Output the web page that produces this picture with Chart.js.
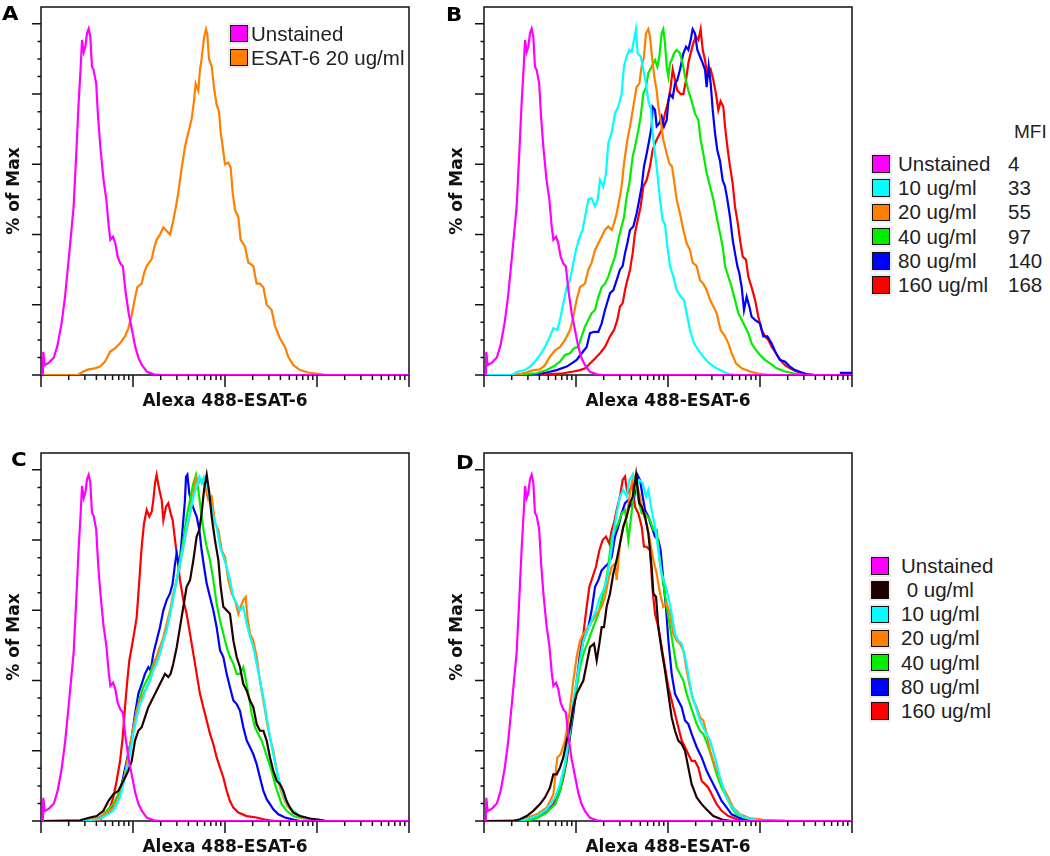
<!DOCTYPE html>
<html>
<head>
<meta charset="utf-8">
<script src="https://cdn.jsdelivr.net/npm/chart.js@4.4.0/dist/chart.umd.min.js"></script>
<style>
  body { margin: 0; background: #fff; }
  #page { position: relative; width: 1050px; height: 856px; overflow: hidden; background: #fff; }
  .panel { position: absolute; width: 420px; height: 420px; }
  .tag { position: absolute; font: bold 19px "DejaVu Sans", sans-serif; line-height: 19px; color: #000; transform: scaleX(1.12); transform-origin: left top; }
  .leg { position: absolute; font: 20.5px "Liberation Sans", Arial, sans-serif; color: #222; white-space: pre; line-height: 24px; height: 24px; }
  .sw { position: absolute; width: 17.5px; height: 17.5px; box-sizing: border-box; border: 1.5px solid #111; box-shadow: 0 0 0 2px #eee; }
</style>
</head>
<body>
<div id="page">
  <canvas class="panel" id="chartA" width="420" height="420" style="left:0;top:0"></canvas>
  <canvas class="panel" id="chartB" width="420" height="420" style="left:443px;top:0"></canvas>
  <canvas class="panel" id="chartC" width="420" height="420" style="left:0;top:446px"></canvas>
  <canvas class="panel" id="chartD" width="420" height="420" style="left:443px;top:446px"></canvas>
  <div class="tag" style="left:2px;top:4px">A</div>
  <div class="tag" style="left:446px;top:5px">B</div>
  <div class="tag" style="left:11px;top:450px">C</div>
  <div class="tag" style="left:456px;top:453px">D</div>
</div>
<script>
// colours of the samples
const colors = {
    unstained: '#ff00ff', c0: '#200000', c10: '#00ffff', c20: '#ff8000',
    c40: '#00ee00', c80: '#0000ff', c160: '#ff0000'
};

// x = log10 of fluorescence (decades, 0..4), y = % of max
const unstained = [[0,0],[0.02,0],[0.025,6.6],[0.04,2.8],[0.09,3.6],[0.14,5],[0.18,8.5],[0.225,15],[0.26,22],[0.305,34],[0.355,48],[0.385,64],[0.41,78],[0.43,87],[0.446,95.4],[0.464,92],[0.482,93.5],[0.5,97.3],[0.518,98.6],[0.536,96.4],[0.554,87.8],[0.572,86.9],[0.6,83],[0.62,73.6],[0.645,65],[0.68,55.5],[0.71,50],[0.736,42.3],[0.754,38.5],[0.783,39.4],[0.808,37.5],[0.833,33.7],[0.862,31.8],[0.89,30.9],[0.917,24.2],[0.953,17.6],[0.989,12.8],[1.025,8],[1.062,4.7],[1.098,2.8],[1.152,0.9],[1.225,0.2],[1.3,0],[4,0]];

// panel A
const esat20A = [[0,0],[0.4,0],[0.46,1],[0.514,1.6],[0.587,1.9],[0.641,2.4],[0.696,3.8],[0.75,6.6],[0.804,7.6],[0.859,9],[0.913,11],[0.949,13.3],[0.986,17],[1.022,22],[1.047,25],[1.094,26],[1.12,29],[1.149,31],[1.203,33],[1.228,36],[1.257,38.5],[1.293,40],[1.33,42],[1.366,41],[1.402,40],[1.438,44],[1.467,48],[1.493,52],[1.529,59],[1.565,65],[1.601,69],[1.638,73],[1.663,78],[1.681,83],[1.71,81],[1.728,87],[1.746,90],[1.772,96],[1.793,98.5],[1.808,97],[1.826,90],[1.855,88],[1.88,82],[1.909,77],[1.935,75],[1.953,69],[1.975,65],[2.0,60],[2.036,60.5],[2.062,59],[2.083,52],[2.109,47],[2.145,45],[2.17,38.5],[2.217,36.6],[2.254,32],[2.308,31],[2.344,26],[2.38,26],[2.417,25],[2.453,20],[2.507,18.5],[2.543,14],[2.598,10.4],[2.652,8],[2.688,5.2],[2.743,2.8],[2.815,1.4],[2.906,0.7],[3.014,0.3],[3.1,0],[4,0]];

// panel B
const b10 = [[0,0],[0.3,0],[0.373,1],[0.446,1.4],[0.5,2.4],[0.554,3.8],[0.609,5.7],[0.663,8],[0.717,11],[0.754,13.3],[0.797,12.8],[0.826,15.7],[0.862,20.4],[0.899,25],[0.935,27],[0.971,32],[1.0,35.6],[1.036,39],[1.072,41.3],[1.098,45],[1.134,50],[1.17,50.3],[1.207,48],[1.236,50],[1.261,55.5],[1.297,53.6],[1.326,57.5],[1.351,66],[1.388,69],[1.424,74.5],[1.46,76.4],[1.496,80],[1.522,88],[1.551,90.7],[1.58,92.6],[1.605,92],[1.63,95.4],[1.652,98.5],[1.67,91.6],[1.703,90.7],[1.732,87],[1.761,83],[1.786,78],[1.815,75.5],[1.841,67],[1.859,63],[1.884,57.5],[1.913,50],[1.942,44],[1.967,43],[1.993,36.6],[2.022,31],[2.058,28],[2.094,24.2],[2.138,22.3],[2.174,21.4],[2.203,17.6],[2.239,12.8],[2.283,9],[2.33,7.1],[2.384,5.2],[2.449,3.3],[2.529,1.9],[2.62,0.7],[2.674,0.2],[2.75,0],[4,0]];
const b20 = [[0,0],[0.3,0],[0.391,0.3],[0.464,0.8],[0.536,1.4],[0.609,1.6],[0.663,2.8],[0.717,5.2],[0.772,7],[0.826,8],[0.88,10],[0.935,12.8],[0.971,16.6],[1.007,21.4],[1.043,25],[1.098,26],[1.134,30],[1.17,32],[1.207,35.6],[1.243,37.5],[1.279,39.4],[1.315,41.3],[1.351,42.3],[1.388,41.3],[1.413,43.2],[1.442,46],[1.471,50],[1.496,53.7],[1.522,60.3],[1.558,67],[1.587,70.8],[1.623,76.4],[1.659,82],[1.688,83],[1.714,88],[1.739,90.7],[1.761,97.3],[1.786,98.5],[1.804,96.4],[1.83,89.7],[1.851,85],[1.877,81],[1.895,76.4],[1.92,72.6],[1.949,67],[1.986,63],[2.014,60.3],[2.043,59.4],[2.065,55.5],[2.094,50],[2.13,46],[2.167,41.3],[2.203,37.5],[2.239,35.6],[2.268,32],[2.312,31],[2.348,27],[2.384,26],[2.42,24.2],[2.457,21.4],[2.493,19.5],[2.529,17.6],[2.572,12.8],[2.62,11],[2.656,9],[2.692,6.2],[2.739,3.3],[2.801,1.9],[2.891,1],[3.0,0.3],[3.1,0],[4,0]];
const b40 = [[0,0],[0.4,0],[0.464,0.3],[0.572,0.5],[0.681,1.4],[0.754,2.4],[0.826,3.8],[0.88,5.7],[0.935,6.2],[0.978,7.6],[1.025,8],[1.062,11],[1.098,13.8],[1.134,15.7],[1.17,17.6],[1.207,18.5],[1.243,22.3],[1.279,25],[1.315,26],[1.351,28],[1.388,31],[1.424,33.7],[1.46,38.5],[1.496,42.3],[1.522,45],[1.551,50.8],[1.58,54.6],[1.616,62.2],[1.641,65],[1.678,69.8],[1.703,73.6],[1.732,80.2],[1.761,82],[1.786,86],[1.822,87.8],[1.859,89.7],[1.884,87.8],[1.906,90.7],[1.931,97.3],[1.949,98.5],[1.967,94.5],[1.986,87.8],[2.004,85],[2.022,88.8],[2.04,89.7],[2.065,91.6],[2.094,92.6],[2.13,91.6],[2.159,88.8],[2.185,85],[2.221,81],[2.257,78],[2.293,74.5],[2.33,72.6],[2.355,67],[2.384,63],[2.42,57.5],[2.457,53.7],[2.493,50],[2.529,45],[2.565,40.4],[2.594,36.6],[2.62,31],[2.656,28],[2.692,25],[2.728,21.4],[2.764,17.6],[2.801,15.7],[2.837,13.8],[2.873,11.9],[2.909,9],[2.957,7.1],[3.0,5.7],[3.054,4.3],[3.109,3.3],[3.181,1.9],[3.272,1],[3.362,0.5],[3.435,0.2],[3.5,0],[4,0]];
const b80 = [[0,0],[0.5,0],[0.572,0.2],[0.681,0.7],[0.79,1.4],[0.899,2.4],[0.953,3.3],[1.007,4.3],[1.062,6.2],[1.116,8],[1.152,11.9],[1.196,12.3],[1.243,12.3],[1.279,14.7],[1.315,18.5],[1.37,23.3],[1.406,24.2],[1.442,27],[1.478,30],[1.507,31],[1.533,34.7],[1.558,37.5],[1.587,41.3],[1.623,42.3],[1.659,46],[1.688,50],[1.714,53.7],[1.739,59.4],[1.768,63],[1.797,67],[1.822,70.8],[1.833,76.4],[1.859,75.5],[1.877,70.8],[1.906,71.7],[1.931,73.6],[1.957,70.8],[1.986,72.6],[2.004,78],[2.022,80],[2.051,79],[2.076,83],[2.101,84],[2.13,86.9],[2.167,91.6],[2.196,93.5],[2.221,92.6],[2.246,95.4],[2.268,98.5],[2.293,97.3],[2.319,92.6],[2.348,90.7],[2.377,88.8],[2.402,87],[2.42,82],[2.442,88],[2.464,83],[2.486,75.5],[2.511,68.9],[2.536,64],[2.565,61],[2.594,55.5],[2.62,53.7],[2.645,50],[2.674,45],[2.703,38.5],[2.728,34.7],[2.754,31],[2.775,29],[2.801,25],[2.826,18.5],[2.855,22.3],[2.884,19.5],[2.909,16.6],[2.946,15.7],[3.0,14.7],[3.036,11],[3.08,11],[3.127,9],[3.174,6.2],[3.217,4.3],[3.272,3.8],[3.326,2.4],[3.38,1.4],[3.453,0.7],[3.507,0.2],[3.6,0],[3.87,0],[3.88,0.6],[4,0.6]];
const b160 = [[0,0],[0.6,0],[0.681,0.2],[0.862,0.5],[0.971,1],[1.043,1.4],[1.098,1.9],[1.152,3.3],[1.207,4.7],[1.261,6.2],[1.315,8],[1.37,11],[1.413,12.8],[1.449,15.7],[1.478,19.5],[1.507,20.4],[1.533,24.2],[1.558,27],[1.587,30],[1.616,34.7],[1.641,40.4],[1.678,45],[1.703,48],[1.732,53.7],[1.768,55.5],[1.804,59.4],[1.833,64],[1.859,66],[1.895,68],[1.931,69.8],[1.967,74.5],[2.004,78],[2.029,82],[2.051,87],[2.076,84],[2.101,81],[2.138,80],[2.167,80],[2.196,84],[2.221,88.8],[2.246,91.6],[2.275,94.5],[2.304,96.4],[2.33,95.4],[2.355,98.5],[2.377,92.6],[2.402,89.7],[2.428,85],[2.464,87],[2.493,84],[2.522,80],[2.547,75.5],[2.572,78],[2.601,76.4],[2.62,70.8],[2.645,65],[2.674,59.4],[2.703,54.6],[2.728,48],[2.754,44],[2.783,38.5],[2.812,33.7],[2.848,32.8],[2.873,28],[2.909,25],[2.946,21.4],[2.982,16.6],[3.018,12.8],[3.054,11],[3.091,10],[3.127,8],[3.174,6.2],[3.217,4.3],[3.272,2.8],[3.326,1.9],[3.38,1.2],[3.453,0.5],[3.507,0.2],[3.6,0],[4,0]];
const mfiB = [4, 33, 55, 97, 140, 168];

// panel C
const c0 = [[0,0],[0.424,0.2],[0.533,1],[0.605,1.4],[0.678,2.9],[0.732,5.7],[0.786,7.6],[0.841,8.6],[0.895,11.4],[0.949,14.3],[0.986,17.1],[1.022,22.9],[1.058,25.7],[1.094,26.7],[1.13,29.5],[1.167,32.4],[1.203,34.3],[1.239,36.2],[1.275,38.1],[1.312,40],[1.348,41.9],[1.384,41],[1.409,41.9],[1.438,44.8],[1.475,49.5],[1.511,55.2],[1.547,61],[1.583,66.7],[1.62,68.6],[1.656,74.3],[1.692,81],[1.721,82.9],[1.746,87.6],[1.772,94.3],[1.801,98.6],[1.83,93.3],[1.855,86.7],[1.891,80],[1.928,74.3],[1.953,66.7],[1.982,61],[2.018,60],[2.054,59],[2.091,51.4],[2.127,46.7],[2.163,43.8],[2.199,39],[2.236,37.1],[2.272,34.3],[2.308,32.4],[2.344,27.6],[2.38,25.7],[2.417,25.7],[2.453,22.9],[2.489,18.1],[2.525,14.3],[2.562,11.4],[2.598,10.5],[2.634,8.6],[2.67,5.7],[2.707,3.8],[2.743,2.4],[2.815,1.4],[2.924,0.7],[3.033,0.3],[3.1,0],[4,0]];
const c10 = [[0,0],[0.42,0],[0.496,0.2],[0.641,0.5],[0.786,2.9],[0.859,6.7],[0.913,12.4],[0.967,19],[1.004,24.8],[1.04,29.5],[1.076,33.3],[1.112,35.2],[1.149,38.1],[1.185,40],[1.221,42.9],[1.257,44.8],[1.293,47.6],[1.33,51.4],[1.366,54.3],[1.402,59],[1.438,63.8],[1.475,68.6],[1.511,73.3],[1.547,78.1],[1.583,83.8],[1.62,87.6],[1.656,92.4],[1.692,95.2],[1.721,98],[1.746,96.2],[1.772,98],[1.801,96.2],[1.837,91.4],[1.873,86.7],[1.909,83.8],[1.946,78.1],[1.982,75.2],[2.018,72.4],[2.054,68.6],[2.091,63.8],[2.127,61.9],[2.163,60],[2.199,61],[2.236,56.2],[2.272,52.4],[2.308,49.5],[2.344,44.8],[2.38,40],[2.417,35.2],[2.453,29.5],[2.489,23.8],[2.525,19],[2.562,14.3],[2.598,10.5],[2.634,7.6],[2.67,5.2],[2.725,3.3],[2.797,1.7],[2.888,0.8],[2.996,0.3],[3.1,0],[4,0]];
const c20 = [[0,0],[0.42,0],[0.496,0.3],[0.641,1],[0.786,3.8],[0.859,7.6],[0.913,13.3],[0.967,21],[1.004,26.7],[1.04,31.4],[1.076,34.3],[1.112,36.2],[1.149,38.1],[1.185,40],[1.221,43.8],[1.257,46.7],[1.293,49.5],[1.33,52.4],[1.366,56.2],[1.402,60],[1.438,64.8],[1.475,68.6],[1.511,73.3],[1.547,78.1],[1.583,82.9],[1.62,87.6],[1.656,93.3],[1.685,98],[1.71,96.2],[1.746,97.1],[1.783,95.2],[1.819,91.4],[1.855,92.4],[1.891,84.8],[1.928,82.9],[1.964,77.1],[2.0,75.2],[2.036,68.6],[2.072,64.8],[2.109,62.9],[2.145,59],[2.17,61],[2.199,62.9],[2.225,63.8],[2.243,58.1],[2.272,53.3],[2.308,51.4],[2.344,46.7],[2.38,40],[2.417,34.3],[2.453,28.6],[2.489,23.8],[2.525,20],[2.562,14.3],[2.598,9.5],[2.634,6.7],[2.678,4.3],[2.743,2.4],[2.833,1.1],[2.942,0.4],[3.05,0],[4,0]];
const c40 = [[0,0],[0.42,0],[0.496,0.2],[0.641,1],[0.786,4.8],[0.859,8.6],[0.913,13.3],[0.967,21],[1.004,25.7],[1.04,31.4],[1.076,35.2],[1.112,38.1],[1.149,40],[1.185,41.9],[1.221,44.8],[1.257,46.7],[1.293,49.5],[1.33,51.4],[1.366,55.2],[1.402,59],[1.438,63.8],[1.475,68.6],[1.511,74.3],[1.547,80],[1.583,86.7],[1.62,91.4],[1.656,96.2],[1.685,98.6],[1.71,94.3],[1.746,86.7],[1.772,81.9],[1.801,78.1],[1.837,74.3],[1.873,68.6],[1.909,61.9],[1.946,57.1],[1.982,53.3],[2.018,49.5],[2.054,46.7],[2.091,44.8],[2.127,41.9],[2.163,41.9],[2.199,43.8],[2.228,40],[2.254,36.2],[2.29,30.5],[2.326,26.7],[2.362,24.8],[2.399,22.9],[2.435,20],[2.471,17.1],[2.507,14.3],[2.543,10.5],[2.58,7.6],[2.616,4.8],[2.67,2.9],[2.743,1.4],[2.851,0.7],[2.96,0.3],[3.05,0],[4,0]];
const c80 = [[0,0],[0.42,0],[0.496,0.2],[0.641,1],[0.75,2.9],[0.822,5.7],[0.877,10.5],[0.931,17],[0.986,23.8],[1.022,30.5],[1.058,36.2],[1.094,39],[1.13,41.9],[1.167,43.8],[1.192,42.9],[1.221,47.6],[1.257,51.4],[1.293,55.2],[1.33,60],[1.366,62.9],[1.402,64.8],[1.431,67.6],[1.457,73.3],[1.475,76.2],[1.504,72.4],[1.529,80],[1.547,85.7],[1.565,91.4],[1.576,98],[1.591,98.6],[1.612,93.3],[1.638,90.5],[1.663,88.6],[1.692,86.7],[1.721,82.9],[1.746,77.1],[1.772,72.4],[1.801,67.6],[1.837,63.8],[1.873,60],[1.909,55.2],[1.946,48.6],[1.982,46.7],[2.018,41.9],[2.054,38.1],[2.091,34.3],[2.127,33.3],[2.163,31.4],[2.199,26.7],[2.236,22.9],[2.272,21],[2.308,19],[2.344,16.2],[2.38,12.4],[2.417,8.6],[2.453,6.2],[2.489,4.8],[2.525,3.3],[2.58,1.9],[2.652,1],[2.743,0.4],[2.815,0],[4,0]];
const c160 = [[0,0],[0.6,0],[0.641,0.2],[0.75,3.8],[0.786,6.7],[0.822,11.4],[0.859,17],[0.888,23.8],[0.913,32.4],[0.938,40],[0.96,45.7],[0.986,49.5],[1.011,53.3],[1.04,58],[1.069,68.6],[1.094,78],[1.12,84.8],[1.149,88.6],[1.178,86.7],[1.203,88],[1.221,91.4],[1.239,96.2],[1.257,98.6],[1.286,94.3],[1.312,91.4],[1.33,85.7],[1.359,89.5],[1.384,90.5],[1.409,87.6],[1.431,85.7],[1.457,80],[1.475,76.2],[1.511,68.6],[1.547,62.9],[1.583,59],[1.62,53.3],[1.656,47.6],[1.692,41.9],[1.728,36.2],[1.764,32.4],[1.801,28.6],[1.837,24.8],[1.873,21.9],[1.909,18.1],[1.946,15.2],[1.982,12.4],[2.018,8.6],[2.054,5.7],[2.091,3.8],[2.145,2.4],[2.236,1.4],[2.344,1],[2.417,0.5],[2.489,0.2],[2.55,0],[4,0]];

// panel D
const d0 = [[0,0],[0.319,0],[0.391,0.5],[0.464,1.4],[0.536,2.9],[0.609,4.8],[0.663,6.7],[0.717,9.5],[0.754,13.3],[0.79,13.3],[0.826,15.2],[0.862,18.1],[0.899,22.9],[0.935,26.7],[0.971,32.4],[1.007,36.2],[1.043,38.1],[1.08,40],[1.116,44.8],[1.152,49.5],[1.196,50.5],[1.225,45.7],[1.254,50.5],[1.279,55.2],[1.304,55.2],[1.333,61],[1.37,64.8],[1.406,70.5],[1.442,74.3],[1.478,79],[1.514,83.8],[1.551,86.7],[1.587,90.5],[1.616,92.4],[1.641,96.2],[1.653,98.6],[1.667,95.2],[1.688,90.5],[1.714,89.5],[1.75,86.7],[1.786,81.9],[1.822,72.4],[1.841,64.8],[1.87,63.8],[1.895,55.2],[1.931,48.6],[1.967,42.9],[2.004,36.2],[2.04,29.5],[2.076,25.7],[2.112,22.9],[2.149,21.9],[2.185,20],[2.221,15.2],[2.257,10.5],[2.312,6.7],[2.366,4.8],[2.42,3.3],[2.493,1.4],[2.601,0.3],[2.7,0],[4,0]];
const d10 = [[0,0],[0.319,0],[0.464,0.5],[0.572,1.4],[0.681,3.3],[0.772,6.7],[0.826,10.5],[0.88,16.2],[0.928,24.8],[0.971,34.3],[1.007,40],[1.043,45.7],[1.08,51.4],[1.123,54.3],[1.17,57.1],[1.217,60],[1.261,63.8],[1.297,65.7],[1.333,68.6],[1.37,74.3],[1.406,81.9],[1.442,87.6],[1.478,92.4],[1.514,94.3],[1.551,92.4],[1.58,97.1],[1.616,98.6],[1.652,95.2],[1.688,97.1],[1.725,96.2],[1.761,92.4],[1.786,94.3],[1.822,88.6],[1.859,83.8],[1.895,77.1],[1.931,70.5],[1.967,67.6],[2.004,63.8],[2.04,59],[2.076,53.3],[2.112,51.4],[2.149,50.5],[2.185,46.7],[2.221,41.9],[2.257,36.2],[2.293,33.3],[2.348,28.6],[2.402,25.7],[2.457,22.9],[2.511,18.1],[2.565,12.4],[2.62,7.6],[2.674,4.8],[2.746,2.4],[2.819,1.1],[2.928,0.5],[3.0,0],[4,0]];
const d20 = [[0,0],[0.33,0],[0.391,0.2],[0.572,1.9],[0.681,3.8],[0.754,7.6],[0.797,18.1],[0.833,19],[0.88,22.9],[0.928,30.5],[0.971,40],[1.007,46.7],[1.043,51.4],[1.08,53.3],[1.134,55.2],[1.181,57.1],[1.225,59],[1.279,61],[1.315,63.8],[1.351,68.6],[1.388,72.4],[1.424,73.3],[1.442,68.6],[1.478,79],[1.514,83.8],[1.551,86.7],[1.587,93.3],[1.623,98.6],[1.659,96.2],[1.696,92.4],[1.732,87.6],[1.768,84.8],[1.804,80],[1.841,74.3],[1.877,70.5],[1.913,64.8],[1.949,61],[1.986,61.9],[2.022,59],[2.058,53.3],[2.094,51.4],[2.13,50.5],[2.167,48.6],[2.203,42.9],[2.239,38.1],[2.275,34.3],[2.312,32.4],[2.348,29.5],[2.384,28.6],[2.42,24.8],[2.457,20],[2.493,17.1],[2.547,13.3],[2.601,9.5],[2.656,6.7],[2.71,3.8],[2.783,1.9],[2.891,0.8],[3.036,0.3],[3.1,0],[4,0]];
const d40 = [[0,0],[0.464,0],[0.572,0.8],[0.681,2.4],[0.772,4.8],[0.826,8.6],[0.88,15.2],[0.928,23.8],[0.971,32.4],[1.007,38.1],[1.043,43.8],[1.08,47.6],[1.134,51.4],[1.188,55.2],[1.243,59],[1.279,62.9],[1.315,66.7],[1.351,72.4],[1.388,81],[1.424,82.9],[1.46,84.8],[1.496,87.6],[1.533,88.6],[1.569,80],[1.587,83.8],[1.623,92.4],[1.652,97.1],[1.678,91.4],[1.714,87.6],[1.75,87.6],[1.804,85.7],[1.841,82.9],[1.877,82.9],[1.913,73.3],[1.949,67.6],[1.986,61],[2.022,55.2],[2.058,49.5],[2.094,43.8],[2.13,41.9],[2.167,40],[2.203,36.2],[2.239,33.3],[2.275,30.5],[2.312,27.6],[2.348,25.7],[2.384,24.8],[2.428,21.9],[2.475,18.1],[2.529,13.3],[2.583,9.5],[2.638,6.7],[2.692,3.8],[2.746,1.9],[2.855,0.7],[3.0,0.3],[3.254,0.1],[3.3,0],[4,0]];
const d80 = [[0,0],[0.464,0],[0.572,1],[0.681,2.9],[0.772,4.8],[0.826,8.6],[0.88,15.2],[0.928,22.9],[0.971,30.5],[1.007,38.1],[1.043,46.7],[1.08,51.4],[1.134,55.2],[1.17,60],[1.207,66.7],[1.243,68.6],[1.279,71.4],[1.315,72.4],[1.351,73.3],[1.388,75.2],[1.424,81],[1.46,83.8],[1.496,87.6],[1.533,90.5],[1.569,91.4],[1.605,89.5],[1.641,93.3],[1.667,98.6],[1.696,97.1],[1.725,92.4],[1.75,88.6],[1.786,86.7],[1.822,83.8],[1.859,81],[1.895,80],[1.92,77.1],[1.949,68.6],[1.978,61],[2.004,51.4],[2.04,41.9],[2.076,36.2],[2.112,34.3],[2.149,32.4],[2.185,28.6],[2.221,27.6],[2.257,24.8],[2.312,21],[2.366,18.1],[2.42,14.3],[2.475,11.4],[2.529,8.6],[2.583,5.7],[2.638,3.8],[2.692,1.9],[2.783,0.8],[2.891,0.3],[2.95,0],[4,0]];
const d160 = [[0,0],[0.464,0.2],[0.572,1],[0.681,2.4],[0.754,4.8],[0.808,7.6],[0.855,11.4],[0.899,17.1],[0.935,24.8],[0.971,32.4],[1.007,40],[1.043,47.6],[1.08,53.3],[1.116,61],[1.145,66.7],[1.181,69.5],[1.217,72.4],[1.254,77.1],[1.29,80],[1.326,81],[1.362,79],[1.388,82.9],[1.413,84.8],[1.442,88.6],[1.478,92.4],[1.507,97.1],[1.533,98.1],[1.558,93.3],[1.587,94.3],[1.616,96.2],[1.641,89.5],[1.678,87.6],[1.714,83.8],[1.739,78.1],[1.768,78.1],[1.804,77.1],[1.833,65.7],[1.859,59],[1.895,55.2],[1.931,49.5],[1.967,43.8],[2.004,38.1],[2.04,34.3],[2.076,30.5],[2.112,26.7],[2.149,22.9],[2.185,21],[2.221,19],[2.257,17.1],[2.293,17.1],[2.33,15.2],[2.366,11.4],[2.402,10.5],[2.438,9.5],[2.475,7.6],[2.529,4.8],[2.583,2.9],[2.656,1.4],[2.746,0.5],[2.85,0],[4,0]];

// axis ticks
const xMajor = [1, 10, 100, 1000, 10000];
const minorSteps = [2, 3, 4, 5, 6, 7, 8, 9];
const yMajor = [0, 20, 40, 60, 80, 100];
const yMinor = [5, 10, 15, 25, 30, 35, 45, 50, 55, 65, 70, 75, 85, 90, 95];
const xMinor = xMajor.slice(0, 4).flatMap(p => minorSteps.map(m => m * p));

// box and tick marks, drawn under the histograms
const frame = {
    id: 'frame',
    beforeDatasetsDraw(chart) {
        const { ctx, chartArea: a, scales: { x, y } } = chart;
        ctx.save();
        ctx.strokeStyle = '#111';
        ctx.lineWidth = 1.5;
        ctx.beginPath();
        ctx.moveTo(a.left, a.bottom);
        ctx.lineTo(a.left, a.top);
        ctx.lineTo(a.right, a.top);
        ctx.lineTo(a.right, a.bottom);
        ctx.lineTo(a.left, a.bottom);
        xMajor.forEach(v => {
            const px = x.getPixelForValue(v);
            ctx.moveTo(px, a.bottom);
            ctx.lineTo(px, a.bottom + 12);
        });
        xMinor.forEach(v => {
            const px = x.getPixelForValue(v);
            ctx.moveTo(px, a.bottom);
            ctx.lineTo(px, a.bottom + 5);
        });
        yMajor.forEach(v => {
            const py = y.getPixelForValue(v);
            ctx.moveTo(a.left - 9, py);
            ctx.lineTo(a.left, py);
        });
        yMinor.forEach(v => {
            const py = y.getPixelForValue(v);
            ctx.moveTo(a.left - 3.5, py);
            ctx.lineTo(a.left, py);
        });
        ctx.stroke();
        ctx.restore();
    }
};

const titleFont = { family: 'DejaVu Sans', weight: 'bold', size: 17, lineHeight: 1 };

function crearHistograma(id, series) {
    const ctx = document.getElementById(id).getContext('2d');
    return new Chart(ctx, {
        type: 'line',
        data: {
            datasets: series.map(s => ({
                label: s.label,
                data: s.pts.map(p => ({ x: Math.pow(10, p[0]), y: p[1] })),
                borderColor: s.color,
                borderWidth: 2.2,
                pointRadius: 0,
                tension: 0,
                fill: false
            }))
        },
        options: {
            responsive: false,
            animation: false,
            events: [],
            layout: { padding: { left: 0, top: 7, right: 11, bottom: 0 } },
            plugins: { legend: { display: false }, tooltip: { enabled: false } },
            scales: {
                x: {
                    type: 'logarithmic',
                    min: 1,
                    max: 10000,
                    grid: { display: false },
                    border: { display: false },
                    ticks: { display: false },
                    title: {
                        display: true,
                        text: 'Alexa 488-ESAT-6',
                        color: '#111',
                        font: titleFont,
                        padding: { top: 0, bottom: 9.5 }
                    },
                    afterFit: s => { s.height = 45; }
                },
                y: {
                    min: 0,
                    max: 104.8,
                    grid: { display: false },
                    border: { display: false },
                    ticks: { display: false },
                    title: {
                        display: true,
                        text: '% of Max',
                        color: '#111',
                        font: titleFont,
                        padding: { top: 6, bottom: 0 }
                    },
                    afterFit: s => { s.width = 41; }
                }
            }
        },
        plugins: [frame]
    });
}

const seriesA = [
    { label: 'Unstained', color: colors.unstained, pts: unstained },
    { label: 'ESAT-6 20 ug/ml', color: colors.c20, pts: esat20A }
];
const seriesB = [
    { label: 'Unstained', color: colors.unstained, pts: unstained },
    { label: '10 ug/ml', color: colors.c10, pts: b10 },
    { label: '20 ug/ml', color: colors.c20, pts: b20 },
    { label: '40 ug/ml', color: colors.c40, pts: b40 },
    { label: '80 ug/ml', color: colors.c80, pts: b80 },
    { label: '160 ug/ml', color: colors.c160, pts: b160 }
];
const seriesC = [
    { label: 'Unstained', color: colors.unstained, pts: unstained },
    { label: ' 0 ug/ml', color: colors.c0, pts: c0 },
    { label: '10 ug/ml', color: colors.c10, pts: c10 },
    { label: '20 ug/ml', color: colors.c20, pts: c20 },
    { label: '40 ug/ml', color: colors.c40, pts: c40 },
    { label: '80 ug/ml', color: colors.c80, pts: c80 },
    { label: '160 ug/ml', color: colors.c160, pts: c160 }
];
const seriesD = [
    { label: 'Unstained', color: colors.unstained, pts: unstained },
    { label: ' 0 ug/ml', color: colors.c0, pts: d0 },
    { label: '10 ug/ml', color: colors.c10, pts: d10 },
    { label: '20 ug/ml', color: colors.c20, pts: d20 },
    { label: '40 ug/ml', color: colors.c40, pts: d40 },
    { label: '80 ug/ml', color: colors.c80, pts: d80 },
    { label: '160 ug/ml', color: colors.c160, pts: d160 }
];

crearHistograma('chartA', seriesA);
crearHistograma('chartB', seriesB);
crearHistograma('chartC', seriesC);
crearHistograma('chartD', seriesD);

// legends (html)
const page = document.getElementById('page');
function addText(txt, left, cy, extra) {
    const el = document.createElement('div');
    el.className = 'leg';
    el.textContent = txt;
    el.style.left = left + 'px';
    el.style.top = (cy - 12) + 'px';
    if (extra) el.style.cssText += extra;
    page.appendChild(el);
}
function addLegend(series, boxLeft, textLeft, firstY, step, values, valueLeft) {
    series.forEach((s, i) => {
        const cy = firstY + i * step;
        const sw = document.createElement('div');
        sw.className = 'sw';
        sw.style.left = boxLeft + 'px';
        sw.style.top = (cy - 8.75) + 'px';
        sw.style.background = s.color;
        page.appendChild(sw);
        addText(s.label, textLeft, cy);
        if (values) addText(String(values[i]), valueLeft, cy);
    });
}

addLegend(seriesA, 230, 251, 33.5, 24);
addLegend(seriesB, 872, 898, 164, 24.2, mfiB, 1008);
addText('MFI', 1014, 132, 'font-size:19px;');
addLegend(seriesD, 871, 901, 566, 24.15);
</script>
</body>
</html>
